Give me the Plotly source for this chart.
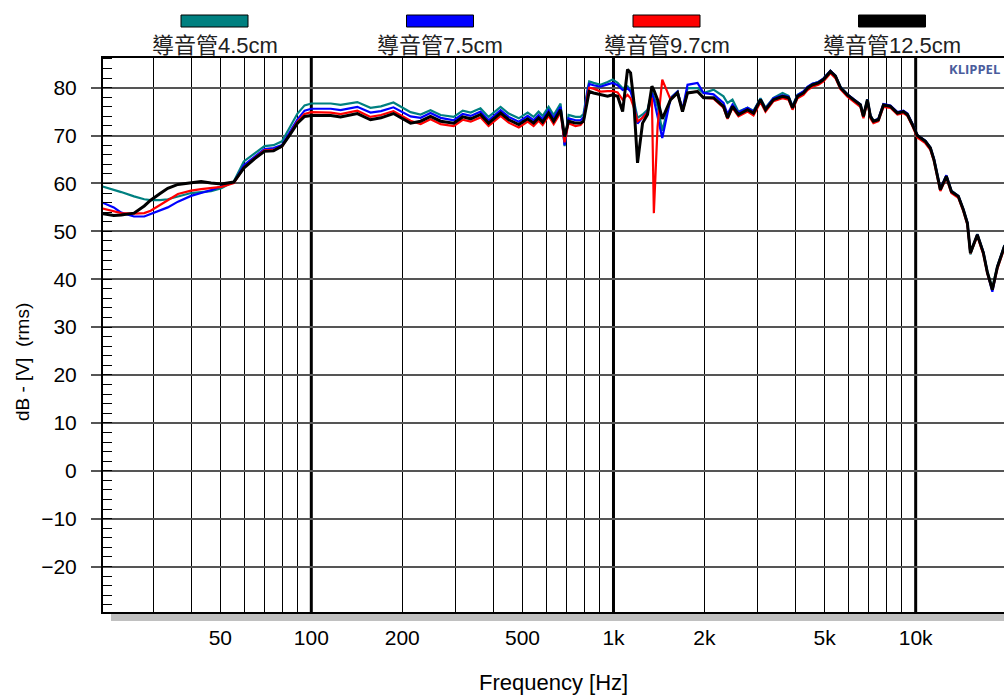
import math
import plotly.graph_objects as go

# Frequency grid (Hz) shared by all four measurements
freq_hz = [
    20, 22.2, 23.5, 25.9, 28, 29.4, 31.6, 33.5, 36.2, 40,
    43.2, 46.6, 50.4, 55.4, 59.8, 65, 70, 75, 80, 85,
    90, 95, 100, 116, 125, 142, 157, 170, 187, 213,
    230, 248, 268, 296, 317, 337, 363, 386, 423, 450,
    486, 520, 544, 565, 583, 610, 634, 668, 689, 710,
    749, 778, 796, 821, 831, 859, 906, 956, 993, 1032,
    1072, 1113, 1139, 1166, 1201, 1248, 1296, 1340, 1360, 1399,
    1450, 1545, 1629, 1692, 1758, 1897, 1986, 2143, 2312, 2384,
    2476, 2592, 2777, 2906, 3065, 3184, 3384, 3625, 3794, 3912,
    4063, 4252, 4385, 4553, 4767, 4951, 5223, 5425, 5636, 5944,
    6223, 6563, 6715, 6923, 7083, 7246, 7527, 7822, 8248, 8699,
    9106, 9389, 9752, 10130, 10767, 11184, 11490, 12066, 12633, 13126,
    13844, 14377, 14830, 15172, 15996, 16748, 17266, 17935, 18630, 19650,
    20000,
]

# Level in dB re 1 V (rms), tube length 4.5 cm
spl_tube_45 = [
    59.5, 58.7, 58.2, 57.3, 56.7, 56.5, 56.5, 56.7, 57.3, 58.0,
    58.2, 58.4, 59.0, 60.4, 64.6, 66.3, 67.8, 68.0, 68.8, 71.8,
    74.6, 76.3, 76.7, 76.7, 76.4, 77.0, 75.8, 76.1, 76.9, 74.9,
    74.4, 75.3, 74.3, 73.9, 75.2, 74.8, 75.7, 73.9, 76.0, 74.6,
    73.6, 74.8, 73.9, 75.0, 74.1, 76.0, 74.3, 76.7, 67.8, 74.3,
    73.9, 73.9, 74.5, 79.8, 81.3, 81.0, 80.6, 81.2, 81.7, 81.0,
    79.9, 80.3, 79.5, 77.5, 73.7, 74.4, 75.4, 79.2, 78.0, 76.1,
    71.0, 77.9, 79.2, 75.4, 79.9, 79.9, 78.9, 79.6, 78.2, 76.8,
    77.5, 75.0, 75.8, 75.2, 77.8, 75.8, 77.9, 78.9, 78.3, 76.2,
    78.5, 79.2, 80.1, 80.8, 81.2, 81.9, 83.5, 82.5, 80.2, 78.6,
    77.6, 76.5, 74.2, 77.6, 74.2, 73.2, 73.4, 76.5, 76.2, 74.8,
    75.1, 74.5, 72.4, 70.1, 68.9, 67.5, 65.1, 58.9, 61.6, 58.5,
    57.4, 54.6, 51.8, 45.2, 49.4, 45.6, 41.6, 38.2, 42.7, 47.0,
    47.5,
]

# Level in dB re 1 V (rms), tube length 7.5 cm
spl_tube_75 = [
    56.2, 55.0, 53.9, 53.1, 53.1, 53.6, 54.3, 55.0, 56.2, 57.4,
    58.0, 58.6, 59.4, 60.2, 63.8, 65.6, 67.2, 67.4, 68.0, 70.8,
    73.4, 75.2, 75.6, 75.6, 75.3, 76.0, 74.8, 75.1, 75.9, 74.0,
    73.7, 74.7, 73.7, 73.2, 74.5, 74.1, 75.0, 73.2, 75.3, 73.9,
    72.9, 74.1, 73.2, 74.3, 73.4, 75.3, 73.6, 76.0, 68.0, 73.6,
    73.2, 73.2, 73.8, 79.2, 80.8, 80.5, 80.2, 80.7, 81.0, 80.5,
    79.5, 79.9, 79.2, 77.0, 72.5, 73.8, 75.0, 78.9, 77.5, 74.0,
    69.5, 77.8, 79.2, 75.4, 80.6, 81.0, 78.9, 78.6, 76.8, 74.5,
    76.5, 74.8, 75.8, 75.0, 77.6, 75.6, 77.8, 78.4, 78.1, 76.0,
    78.4, 79.2, 80.2, 80.8, 81.2, 81.9, 83.5, 82.5, 80.1, 78.6,
    77.6, 76.5, 74.1, 77.5, 74.2, 73.0, 73.5, 76.6, 76.3, 74.9,
    75.2, 74.6, 72.5, 70.1, 68.9, 67.5, 65.2, 58.9, 61.7, 58.4,
    57.4, 54.6, 51.8, 45.6, 49.3, 45.6, 41.4, 37.4, 42.6, 46.9,
    47.4,
]

# Level in dB re 1 V (rms), tube length 9.7 cm
spl_tube_97 = [
    54.9, 54.2, 53.8, 53.7, 53.8, 54.3, 55.6, 56.5, 57.8, 58.5,
    58.8, 59.0, 59.3, 60.1, 63.3, 65.3, 66.9, 67.0, 67.7, 70.3,
    72.9, 74.5, 74.9, 74.8, 74.5, 75.2, 73.9, 74.3, 75.1, 73.1,
    72.4, 73.4, 72.4, 72.0, 73.3, 72.9, 73.8, 72.0, 74.1, 72.7,
    71.7, 72.9, 72.0, 73.1, 72.2, 74.1, 72.4, 74.8, 68.6, 72.6,
    72.0, 72.2, 73.0, 78.5, 80.0, 79.8, 79.2, 79.3, 79.3, 79.0,
    77.5, 78.5, 77.8, 76.0, 73.0, 73.7, 74.8, 77.9, 53.8, 71.9,
    81.7, 77.5, 78.9, 75.0, 78.9, 79.2, 77.9, 77.7, 75.8, 73.5,
    75.8, 74.0, 75.0, 74.2, 77.0, 75.0, 77.2, 77.8, 77.5, 75.4,
    77.8, 78.5, 79.5, 80.2, 80.6, 81.3, 83.0, 82.0, 79.7, 78.1,
    77.1, 76.0, 73.6, 77.1, 73.6, 72.6, 73.0, 76.0, 75.8, 74.4,
    74.7, 74.1, 72.0, 69.6, 68.4, 67.0, 64.7, 58.4, 61.2, 58.0,
    57.0, 54.2, 51.4, 45.4, 49.0, 45.2, 41.2, 37.8, 42.2, 46.5,
    47.0,
]

# Level in dB re 1 V (rms), tube length 12.5 cm
spl_tube_125 = [
    53.8, 53.3, 53.4, 53.8, 55.3, 56.5, 57.9, 59.0, 59.8, 60.2,
    60.4, 60.1, 59.9, 60.3, 63.2, 65.2, 66.7, 66.8, 67.8, 70.2,
    72.6, 74.0, 74.2, 74.2, 73.9, 74.6, 73.3, 73.7, 74.6, 72.6,
    73.0, 74.0, 73.0, 72.6, 73.9, 73.5, 74.4, 72.6, 74.7, 73.3,
    72.3, 73.5, 72.6, 73.7, 72.8, 74.7, 73.0, 75.4, 69.8, 73.0,
    72.6, 72.6, 73.0, 77.5, 79.2, 78.9, 78.5, 78.2, 78.5, 78.2,
    75.0, 83.8, 83.1, 77.5, 64.3, 72.6, 74.4, 80.3, 79.5, 77.5,
    73.5, 77.5, 78.9, 75.0, 78.9, 79.2, 77.9, 77.9, 76.1, 73.7,
    76.1, 74.4, 75.4, 74.7, 77.5, 75.4, 77.5, 78.2, 77.9, 75.8,
    78.2, 78.9, 79.9, 80.6, 81.0, 81.7, 83.4, 82.4, 80.0, 78.5,
    77.5, 76.4, 74.0, 77.5, 74.0, 73.0, 73.3, 76.4, 76.1, 74.7,
    75.0, 74.4, 72.3, 70.0, 68.8, 67.4, 65.0, 58.7, 61.5, 58.3,
    57.3, 54.5, 51.7, 45.5, 49.3, 45.5, 41.4, 37.8, 42.5, 46.8,
    47.3,
]

series_names = ["導音管4.5cm", "導音管7.5cm", "導音管9.7cm", "導音管12.5cm"]
series_colors = ["#008080", "#0000ff", "#ff0000", "#000000"]
series_widths = [2.2, 2.2, 2.2, 3.0]
series_levels = [spl_tube_45, spl_tube_75, spl_tube_97, spl_tube_125]

x_tick_vals = [50, 100, 200, 500, 1000, 2000, 5000, 10000]
x_tick_text = ["50", "100", "200", "500", "1k", "2k", "5k", "10k"]
minor_freqs = [30, 40, 60, 70, 80, 90, 300, 400, 600, 700, 800, 900,
               3000, 4000, 6000, 7000, 8000, 9000]
decade_freqs = [100, 1000, 10000]
y_tick_vals = [-20, -10, 0, 10, 20, 30, 40, 50, 60, 70, 80]

FONT = "Liberation Sans, Arial, Noto Sans CJK TC, sans-serif"
W, H = 1004, 695
PL, PT, PB = 103, 58, 612
PW, PH = W - PL, PB - PT


def px(x):
    return (x - PL) / PW


def py(y):
    return (PB - y) / PH


fig = go.Figure()
for name, color, width, levels in zip(series_names, series_colors,
                                      series_widths, series_levels):
    fig.add_trace(go.Scatter(
        x=freq_hz, y=levels, mode="lines", name=name,
        line=dict(color=color, width=width), showlegend=False,
        hoverinfo="skip",
    ))

shapes = []
# heavy decade lines
for f in decade_freqs:
    shapes.append(dict(type="line", xref="x", yref="paper", x0=f, x1=f,
                       y0=0, y1=1, layer="between",
                       line=dict(color="black", width=3)))
# drop shadow under the plot frame
shapes.append(dict(type="rect", xref="paper", yref="paper",
                   x0=px(111), x1=px(1010), y0=py(621), y1=py(613),
                   fillcolor="#c0c0c0", line=dict(width=0), layer="below"))

annotations = []
legend_centers = [214.5, 440, 666.5, 892]
for name, color, cx in zip(series_names, series_colors, legend_centers):
    shapes.append(dict(type="rect", xref="paper", yref="paper",
                       x0=px(cx - 33.5), x1=px(cx + 33.5),
                       y0=py(27), y1=py(15), fillcolor=color,
                       line=dict(color="black", width=1)))
    annotations.append(dict(text=name, xref="paper", yref="paper",
                            x=px(cx), y=py(46), xanchor="center",
                            yanchor="middle", showarrow=False,
                            font=dict(family=FONT, size=22, color="#222222")))

annotations.append(dict(text="KLIPPEL", xref="paper", yref="paper",
                        x=px(1002), y=py(69.5), xanchor="right",
                        yanchor="middle", showarrow=False,
                        font=dict(family="Open Sans, sans-serif", size=13,
                                  color="#4a5c9c", weight="bold")))
annotations.append(dict(text="dB - [V]  (rms)", xref="paper", yref="paper",
                        x=px(22), y=py(362), textangle=-90,
                        xanchor="center", yanchor="middle", showarrow=False,
                        font=dict(family=FONT, size=19, color="black")))
annotations.append(dict(text="Frequency [Hz]", xref="paper", yref="paper",
                        x=px(553), y=py(682), xanchor="center",
                        yanchor="middle", showarrow=False,
                        font=dict(family=FONT, size=22, color="black")))

fig.update_layout(
    width=W, height=H,
    margin=dict(l=PL, r=0, t=PT, b=H - PB, pad=0),
    paper_bgcolor="white", plot_bgcolor="white",
    shapes=shapes, annotations=annotations,
    font=dict(family=FONT, size=21, color="black"),
)

fig.update_xaxes(
    type="log",
    range=[math.log10(20.45), math.log10(19600)],
    tickmode="array", tickvals=x_tick_vals, ticktext=x_tick_text,
    ticks="", ticklabelstandoff=6,
    showgrid=True, gridcolor="black", gridwidth=1,
    minor=dict(tickmode="array", tickvals=minor_freqs, showgrid=True,
               gridcolor="black", gridwidth=1, ticks=""),
    showline=True, linecolor="black", linewidth=2, mirror=True,
    zeroline=False, tickfont=dict(size=21),
)

fig.update_yaxes(
    range=[-29.5, 86.2],
    tickmode="array", tickvals=y_tick_vals,
    ticks="outside", ticklen=10, tickwidth=2, tickcolor="#555555",
    ticklabelstandoff=10,
    showgrid=True, gridcolor="#555555", gridwidth=2,
    minor=dict(dtick=2, tick0=0, ticks="inside", ticklen=9,
               tickwidth=1, tickcolor="black", showgrid=False),
    showline=True, linecolor="black", linewidth=2, mirror=False,
    zeroline=False, tickfont=dict(size=21),
)

fig.write_html("out.html")
